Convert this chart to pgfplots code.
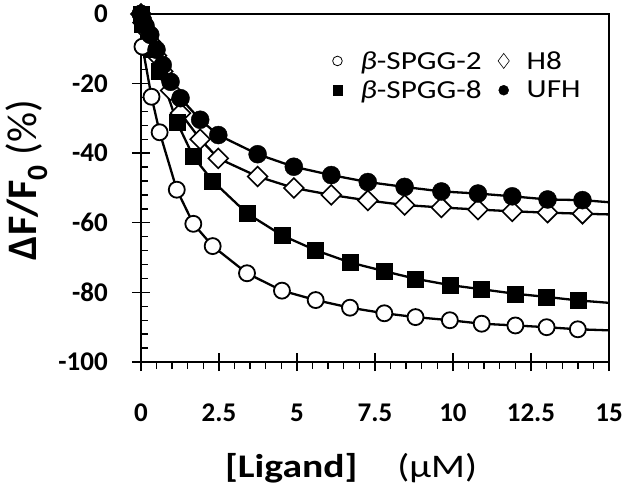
\documentclass[border=0pt]{standalone}
\usepackage{pgfplots}
\pgfplotsset{compat=1.18}
\usepackage{fontspec}
\setmainfont{Carlito}
\newfontfamily\widefont{Carlito}[FakeStretch=1.2]
\begin{document}
\begin{tikzpicture}
\begin{axis}[
  scale only axis, width=468pt, height=348pt,
  xmin=0, xmax=15, ymin=-100, ymax=0,
  clip=false,
  axis line style={line width=1.6pt},
  xtick={0,2.5,...,15}, ytick={-100,-80,...,0},
  minor x tick num=4, minor y tick num=4,
  tick pos=left,
  tick align=center,
  major tick length=18pt, minor tick length=7pt,
  every tick/.style={black, line width=1.4pt},
  minor x tick style={yshift=-3.5pt},
  minor y tick style={xshift=3.5pt},
  /pgf/number format/assume math mode=true,
  ticklabel style={font=\fontsize{27}{27}\selectfont\bfseries},
  yticklabel style={anchor=east, inner sep=0pt, xshift=-24pt},
  xticklabel style={anchor=north, inner sep=0pt, yshift=-33pt},
  xlabel={\textbf{[Ligand]}\hspace{40pt}(µM)},
  xlabel style={at={(rel axis cs:0.449,-0.333)}, anchor=base, font=\widefont\fontsize{33}{33}\selectfont},
  ylabel={\textbf{ΔF/F\textsubscript{0}} (\%)},
  ylabel style={at={(rel axis cs:-0.222,0.523)}, anchor=base, font=\fontsize{42}{42}\selectfont},
  legend columns=2,
  legend cell align=left,
  legend image code/.code={\path[draw=none,fill=none] (-6pt,0pt) -- (22pt,0pt); \draw[#1] plot coordinates {(0pt,0pt)};},
  legend style={at={(axis cs:6.1,-10.4)}, anchor=north west, draw=none, fill=none,
    font=\widefont\fontsize{26}{30}\selectfont, inner sep=0pt, row sep=8pt,
    nodes={inner sep=1pt},
    /tikz/every even column/.append style={column sep=15pt}},
]
\path (rel axis cs:-0.301,-0.368) rectangle (rel axis cs:1.032,1.040);

\addlegendimage{only marks, mark=o, mark size=4.8pt, mark options={line width=0.8pt}}
\addlegendentry{\textit{β}-SPGG-2}
\addlegendimage{only marks, mark=diamond, mark size=7.5pt, mark options={line width=0.6pt}}
\addlegendentry{H8}
\addlegendimage{only marks, mark=square*, mark size=4.6pt}
\addlegendentry{\textit{β}-SPGG-8}
\addlegendimage{only marks, mark=*, mark size=5pt}
\addlegendentry{UFH}

% H8
\addplot[black, line width=2.3pt, forget plot] coordinates {
(0,0) (0.07,-2.5) (0.15,-4.5) (0.3,-8) (0.5,-12) (0.7,-16.5) (0.95,-22) (1.27,-28.5) (1.9,-36) (2.48,-41.5) (3.74,-46.7) (4.9,-50.0) (6.1,-52.0) (7.27,-53.6) (8.45,-54.9) (9.63,-55.6) (10.8,-56.2) (11.9,-56.7) (13.03,-57.1) (14.15,-57.4) (15,-57.6)};
\addplot[only marks, mark=square*, mark size=7pt, mark options={rotate=45, fill=white, draw=black, line width=1.6pt}, forget plot] coordinates {
(0,0) (0.07,-2.5) (0.15,-4.5) (0.3,-8) (0.5,-12) (0.7,-16.5) (0.95,-22) (1.27,-28.5) (1.9,-36) (2.48,-41.5) (3.74,-46.7) (4.9,-50.0) (6.1,-52.0) (7.27,-53.6) (8.45,-54.9) (9.63,-55.6) (10.8,-56.2) (11.9,-56.7) (13.03,-57.1) (14.15,-57.4)};

% beta-SPGG-8
\addplot[black, line width=2.3pt, forget plot] coordinates {
(0,0) (0.05,-3) (0.34,-10) (0.6,-16.5) (1.15,-31) (1.68,-41) (2.3,-48) (3.4,-57.3) (4.52,-63.6) (5.6,-67.9) (6.7,-71.4) (7.8,-73.9) (8.8,-76.1) (9.9,-77.9) (10.92,-79.1) (12.0,-80.4) (13.0,-81.3) (14.0,-82.3) (15,-83.0)};
\addplot[only marks, mark=square*, mark size=8pt, mark options={fill=black, draw=black}, forget plot] coordinates {
(0,0) (0.05,-3) (0.34,-10) (0.6,-16.5) (1.15,-31) (1.68,-41) (2.3,-48) (3.4,-57.3) (4.52,-63.6) (5.6,-67.9) (6.7,-71.4) (7.8,-73.9) (8.8,-76.1) (9.9,-77.9) (10.92,-79.1) (12.0,-80.4) (13.0,-81.3) (14.0,-82.3)};

% beta-SPGG-2
\addplot[black, line width=2.3pt, forget plot] coordinates {
(0,0) (0.05,-9.4) (0.34,-23.8) (0.6,-34) (1.15,-50.5) (1.68,-60.3) (2.3,-66.7) (3.4,-74.5) (4.52,-79.5) (5.6,-82.2) (6.7,-84.4) (7.8,-86.0) (8.8,-87.1) (9.9,-88.0) (10.92,-89.0) (12.0,-89.5) (13.0,-90.0) (14.0,-90.6) (15,-90.9)};
\addplot[only marks, mark=*, mark size=8pt, mark options={fill=white, draw=black, line width=1.8pt}, forget plot] coordinates {
(0,0) (0.05,-9.4) (0.34,-23.8) (0.6,-34) (1.15,-50.5) (1.68,-60.3) (2.3,-66.7) (3.4,-74.5) (4.52,-79.5) (5.6,-82.2) (6.7,-84.4) (7.8,-86.0) (8.8,-87.1) (9.9,-88.0) (10.92,-89.0) (12.0,-89.5) (13.0,-90.0) (14.0,-90.6)};

% UFH
\addplot[black, line width=2.3pt, forget plot] coordinates {
(0,0) (0.07,-2) (0.15,-3.5) (0.3,-6) (0.5,-10.3) (0.7,-14.7) (0.95,-19.5) (1.27,-24.2) (1.9,-30.4) (2.48,-34.8) (3.74,-40.3) (4.9,-43.9) (6.1,-46.3) (7.27,-48.3) (8.45,-49.7) (9.63,-51.0) (10.8,-51.6) (11.9,-52.4) (13.03,-53.3) (14.15,-53.5) (15,-54.1)};
\addplot[only marks, mark=*, mark size=9pt, mark options={fill=black, draw=black}, forget plot] coordinates {
(0,0) (0.07,-2) (0.15,-3.5) (0.3,-6) (0.5,-10.3) (0.7,-14.7) (0.95,-19.5) (1.27,-24.2) (1.9,-30.4) (2.48,-34.8) (3.74,-40.3) (4.9,-43.9) (6.1,-46.3) (7.27,-48.3) (8.45,-49.7) (9.63,-51.0) (10.8,-51.6) (11.9,-52.4) (13.03,-53.3) (14.15,-53.5)};
\end{axis}
\end{tikzpicture}
\end{document}
